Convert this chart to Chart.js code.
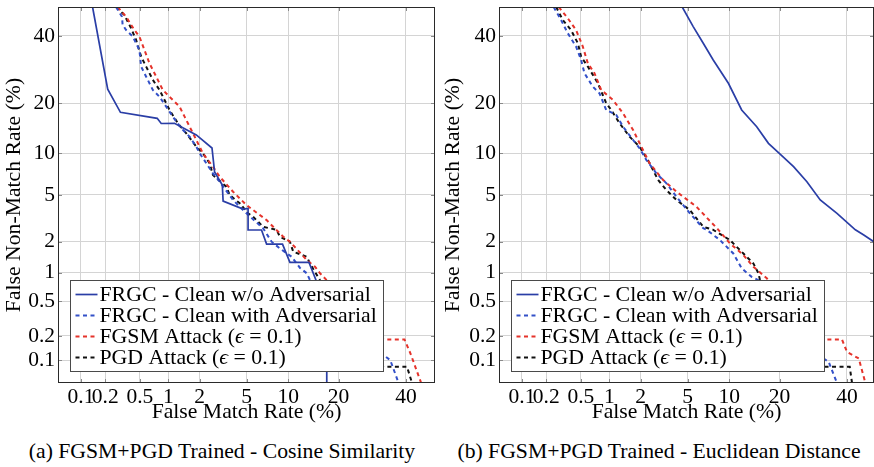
<!DOCTYPE html>
<html><head><meta charset="utf-8">
<script src="https://cdn.jsdelivr.net/npm/chart.js@4/dist/chart.umd.min.js"></script>
<style>
html,body{margin:0;padding:0;background:#fff;overflow:hidden;width:874px;height:467px;}
#wrap{position:relative;width:874px;height:467px;overflow:hidden;}
canvas{position:absolute;top:0;}
.cap{position:absolute;font-family:'Liberation Serif','Times New Roman',serif;font-size:21.7px;white-space:nowrap;transform:translateX(-50%);line-height:1;color:#000;}
</style></head>
<body><div id="wrap">
<canvas id="c1" width="437" height="425" style="left:0"></canvas>
<canvas id="c2" width="437" height="425" style="left:437px"></canvas>
<div class="cap" id="cap1" style="left:222px;top:441px"></div>
<div class="cap" id="cap2" style="left:659px;top:441px"></div>
</div>
<script>
// ---------- DATA (False Match Rate %, False Non-Match Rate %) ----------
const tickValues = [0.1, 0.2, 0.5, 1, 2, 5, 10, 20, 40];
const tickLabels = ['0.1', '0.2', '0.5', '1', '2', '5', '10', '20', '40'];
const seriesLabels = ['FRGC - Clean w/o Adversarial', 'FRGC - Clean with Adversarial', 'FGSM Attack (ϵ = 0.1)', 'PGD Attack (ϵ = 0.1)'];
const panelCaptions = ['(a) FGSM+PGD Trained - Cosine Similarity', '(b) FGSM+PGD Trained - Euclidean Distance'];

// (a) Cosine similarity
const cosNoAdv = [[0.14,50],[0.214,23.6],[0.302,17.84],[0.766,16.5],[0.843,15.4],[1.15,15.45],[1.86,13.14],[2.58,10.86],[2.72,7.43],[3.17,5.96],[3.22,4.47],[4.70,3.85],[5.14,3.90],[5.14,2.55],[6.50,2.55],[7.08,1.90],[9.16,1.90],[10.27,1.27],[13.57,1.27],[14.95,0.84],[17.24,0.3],[17.24,0.05]];
const cosCleanAdv = [[0.269,50],[0.315,46.6],[0.32,43.8],[0.351,42.0],[0.417,39.8],[0.494,35.35],[0.516,30.1],[0.585,27.1],[0.689,23.4],[0.81,21.6],[0.949,19.15],[1.107,16.86],[1.34,14.42],[1.61,12.82],[1.862,11.07],[2.0,10.02],[2.63,7.28],[3.01,6.31],[3.90,4.56],[4.99,3.55],[6.68,2.64],[7.69,2.0],[8.79,1.73],[10.54,1.44],[11.94,1.12],[13.15,0.99],[13.77,0.84],[32.67,0.116],[34.81,0.1],[37.54,0.05]];
const cosFgsm = [[0.281,50],[0.351,46.6],[0.435,42.0],[0.494,39.8],[0.561,35.35],[0.635,31.1],[0.748,27.1],[0.876,23.4],[1.025,21.6],[1.289,19.15],[1.442,16.86],[1.671,14.09],[1.927,11.64],[2.14,10.02],[2.63,8.11],[3.01,6.87],[3.90,5.3],[4.99,4.15],[5.62,3.78],[7.08,3.11],[7.89,2.72],[9.26,2.22],[10.27,2.0],[13.15,1.34],[14.75,1.15],[15.78,0.99],[17.24,0.84],[32.67,0.181],[39.5,0.181],[41.5,0.122],[45.2,0.05]];
const cosPgd = [[0.269,50],[0.335,47.2],[0.40,42.6],[0.454,38.65],[0.516,33.2],[0.585,30.1],[0.689,26.2],[0.81,23.4],[0.912,20.8],[1.025,18.37],[1.241,15.44],[1.497,13.45],[1.862,11.07],[2.14,10.02],[2.46,8.56],[2.63,7.07],[3.43,5.79],[3.66,4.99],[4.42,4.29],[5.14,3.55],[5.62,3.32],[6.68,2.72],[8.34,2.56],[8.79,2.22],[10.27,2.0],[10.8,1.61],[13.15,1.44],[13.77,1.24],[14.75,1.02],[15.78,0.84],[32.67,0.082],[40.35,0.082],[42.06,0.05]];

// (b) Euclidean distance
const eucNoAdv = [[4.54,50],[5.53,43.2],[6.58,37.55],[7.77,32.15],[9.88,25.22],[12.05,18.37],[14.89,14.75],[17.39,11.64],[20.13,9.91],[23.59,8.11],[27.32,6.31],[31.32,4.56],[36.67,3.55],[42.85,2.56],[45.75,2.30],[49.24,2.0]];
const eucCleanAdv = [[0.245,50],[0.299,45.49],[0.357,40.92],[0.443,36.43],[0.503,32.15],[0.547,28.1],[0.673,24.28],[0.79,22.5],[0.927,18.37],[1.17,17.23],[1.361,14.75],[1.70,12.22],[1.955,10.81],[2.25,9.03],[2.76,7.28],[3.37,6.14],[4.08,4.84],[5.21,3.55],[6.58,2.64],[6.96,2.56],[8.66,2.07],[10.65,1.55],[12.05,1.11],[13.89,0.91],[15.24,0.84],[32.38,0.105],[33.97,0.095],[36.67,0.05]];
const eucFgsm = [[0.281,50],[0.357,46.08],[0.443,42.0],[0.525,36.43],[0.595,31.1],[0.70,28.1],[0.823,23.4],[1.084,20.8],[1.361,17.62],[1.70,14.09],[1.955,11.64],[2.41,8.56],[3.16,6.5],[4.08,5.3],[5.86,4.02],[8.44,2.56],[10.11,1.93],[12.35,1.5],[14.23,1.15],[17.02,0.88],[32.38,0.181],[38.33,0.181],[40.0,0.127],[44.02,0.105],[46.31,0.05]];
const eucPgd = [[0.262,50],[0.313,45.49],[0.389,42.0],[0.463,37.55],[0.503,33.2],[0.595,30.1],[0.761,25.22],[0.927,19.97],[1.042,18.37],[1.261,15.44],[1.575,12.82],[1.955,11.07],[2.41,8.56],[2.86,6.5],[3.37,5.46],[4.08,4.56],[5.21,3.78],[6.58,2.72],[7.77,2.56],[10.11,2.07],[12.35,1.55],[14.23,1.24],[15.24,0.99],[15.57,0.84],[32.38,0.082],[40.93,0.082],[41.71,0.05]];

document.getElementById('cap1').textContent = panelCaptions[0];
document.getElementById('cap2').textContent = panelCaptions[1];

// ---------- probit (normal deviate) scale ----------
function probit(p){
  const a=[-3.969683028665376e+01,2.209460984245205e+02,-2.759285104469687e+02,1.383577518672690e+02,-3.066479806614716e+01,2.506628277459239e+00];
  const b=[-5.447609879822406e+01,1.615858368580409e+02,-1.556989798598866e+02,6.680131188771972e+01,-1.328068155288572e+01];
  const c=[-7.784894002430293e-03,-3.223964580411365e-01,-2.400758277161838e+00,-2.549732539343734e+00,4.374664141464968e+00,2.938163982698783e+00];
  const d=[7.784695709041462e-03,3.224671290700398e-01,2.445134137142996e+00,3.754408661907416e+00];
  const pl=0.02425, ph=1-pl; let q,r;
  if(p<pl){q=Math.sqrt(-2*Math.log(p));return (((((c[0]*q+c[1])*q+c[2])*q+c[3])*q+c[4])*q+c[5])/((((d[0]*q+d[1])*q+d[2])*q+d[3])*q+1);}
  if(p>ph){q=Math.sqrt(-2*Math.log(1-p));return -(((((c[0]*q+c[1])*q+c[2])*q+c[3])*q+c[4])*q+c[5])/((((d[0]*q+d[1])*q+d[2])*q+d[3])*q+1);}
  q=p-0.5; r=q*q;
  return (((((a[0]*r+a[1])*r+a[2])*r+a[3])*r+a[4])*r+a[5])*q/(((((b[0]*r+b[1])*r+b[2])*r+b[3])*r+b[4])*r+1);
}
function ncdf(z){
  const t=1/(1+0.2316419*Math.abs(z)); const dd=0.3989423*Math.exp(-z*z/2);
  const p=dd*t*(0.3193815+t*(-0.3565638+t*(1.781478+t*(-1.821256+t*1.330274))));
  return z>0?1-p:p;
}
class ProbitScale extends Chart.Scale {
  determineDataLimits(){ this.min = this.options.min; this.max = this.options.max; }
  buildTicks(){ return tickValues.map(v => ({value: v})); }
  getLabelForValue(v){ return String(v); }
  configure(){ super.configure(); this._pS = probit(this.min/100); this._pE = probit(this.max/100); }
  getPixelForValue(v){
    const cl = Math.min(Math.max(v, 1e-6), 100-1e-6);
    return this.getPixelForDecimal((probit(cl/100) - this._pS) / (this._pE - this._pS));
  }
  getValueForPixel(px){ const dd = this.getDecimalForPixel(px); return 100*ncdf(this._pS + dd*(this._pE - this._pS)); }
  getPixelForTick(i){ const t = this.ticks; return (i < 0 || i >= t.length) ? null : this.getPixelForValue(t[i].value); }
}
ProbitScale.id = 'probit';
ProbitScale.defaults = {};
Chart.register(ProbitScale);

const FONT = "'Liberation Serif', 'Times New Roman', serif";
Chart.defaults.font.family = FONT;
Chart.defaults.color = '#000';

const colNoAdv = '#2a3ea6', colAdv = '#3350c8', colFgsm = '#e5332b', colPgd = '#111111';
const gridColor = '#d4d4d4';
const TXT = 21.7, TICK = 21.5, LEG = 21.8;

function toPts(arr){ return arr.map(p => ({x: p[0], y: p[1]})); }
function makeDatasets(a, b, c, d){
  return [
    {label: seriesLabels[0], data: toPts(a), borderColor: colNoAdv, borderWidth: 1.7, borderDash: []},
    {label: seriesLabels[1], data: toPts(b), borderColor: colAdv, borderWidth: 2, borderDash: [4, 3.5]},
    {label: seriesLabels[2], data: toPts(c), borderColor: colFgsm, borderWidth: 2, borderDash: [4, 3.5]},
    {label: seriesLabels[3], data: toPts(d), borderColor: colPgd, borderWidth: 2, borderDash: [4, 3.5]}
  ];
}

function drawLabel(ctx, text, x, y){
  const parts = text.split('ϵ');
  let cx = x;
  parts.forEach((part, i) => {
    if (i > 0) {
      ctx.font = "italic " + LEG + "px " + FONT;
      ctx.fillText('ϵ', cx, y);
      cx += ctx.measureText('ϵ').width;
    }
    ctx.font = LEG + "px " + FONT;
    ctx.fillText(part, cx, y);
    cx += ctx.measureText(part).width;
  });
}

const framePlugin = {
  id: 'frameLegend',
  afterDatasetsDraw(chart){
    const {ctx, chartArea: a, scales} = chart;
    ctx.save();
    const L = Math.round(a.left), R = Math.round(a.right), T = Math.round(a.top), B = Math.round(a.bottom);
    // inner tick marks
    ctx.strokeStyle = '#8a8a8a'; ctx.lineWidth = 1; ctx.setLineDash([]);
    ctx.beginPath();
    scales.x.ticks.forEach(t => {
      const px = Math.round(scales.x.getPixelForValue(t.value)) + 0.5;
      ctx.moveTo(px, B); ctx.lineTo(px, B - 4); ctx.moveTo(px, T); ctx.lineTo(px, T + 4);
    });
    scales.y.ticks.forEach(t => {
      const py = Math.round(scales.y.getPixelForValue(t.value)) + 0.5;
      ctx.moveTo(L, py); ctx.lineTo(L + 4, py); ctx.moveTo(R, py); ctx.lineTo(R - 4, py);
    });
    ctx.stroke();
    // frame
    ctx.strokeStyle = '#2a2a2a'; ctx.lineWidth = 1;
    ctx.strokeRect(L + 0.5, T + 0.5, R - L - 1, B - T - 1);
    // legend
    const bx = L + 12.5, bh = 91, by = B - 11.5 - bh, bw = 313;
    ctx.fillStyle = '#fff'; ctx.fillRect(bx, by, bw, bh);
    ctx.strokeStyle = '#4a4a4a'; ctx.strokeRect(bx, by, bw, bh);
    chart.data.datasets.forEach((ds, i) => {
      const yy = by + 14 + i * 21;
      ctx.strokeStyle = ds.borderColor; ctx.lineWidth = ds.borderWidth; ctx.setLineDash(ds.borderDash || []);
      ctx.beginPath(); ctx.moveTo(bx + 5, yy); ctx.lineTo(bx + 27, yy); ctx.stroke();
      ctx.setLineDash([]);
      ctx.fillStyle = '#000'; ctx.textBaseline = 'middle'; ctx.textAlign = 'left';
      drawLabel(ctx, ds.label, bx + 29, yy + 1);
    });
    ctx.restore();
  }
};

function makeOptions(xMax, yAxisWidth, yTitlePad, padRight){
  return {
    responsive: false, animation: false, devicePixelRatio: 1,
    layout: {padding: {left: 0, right: padRight, top: 7, bottom: 0}},
    plugins: {legend: {display: false}, tooltip: {enabled: false}},
    elements: {point: {radius: 0}, line: {tension: 0, borderCapStyle: 'butt'}},
    scales: {
      x: {
        type: 'probit', position: 'bottom', min: 0.05, max: xMax,
        grid: {color: gridColor, lineWidth: 1, drawTicks: false},
        border: {display: false},
        ticks: {autoSkip: false, maxRotation: 0, minRotation: 0, padding: 1, color: '#000', font: {size: TICK},
                callback: (v, i) => tickLabels[i]},
        title: {display: true, text: 'False Match Rate (%)', color: '#000', font: {size: TXT}, padding: {top: 0, bottom: 0}},
        afterFit: s => { s.height = 42; s.paddingLeft = 0; s.paddingRight = 0; }
      },
      y: {
        type: 'probit', position: 'left', min: 0.05, max: 50,
        grid: {color: gridColor, lineWidth: 1, drawTicks: false},
        border: {display: false},
        ticks: {autoSkip: false, padding: 3, color: '#000', font: {size: TICK},
                callback: (v, i) => tickLabels[i]},
        title: {display: true, text: 'False Non-Match Rate (%)', color: '#000', font: {size: TXT}, padding: {top: yTitlePad, bottom: 0}},
        afterFit: s => { s.width = yAxisWidth; s.paddingTop = 0; s.paddingBottom = 0; }
      }
    }
  };
}

new Chart(document.getElementById('c1'), {
  type: 'line',
  data: {datasets: makeDatasets(cosNoAdv, cosCleanAdv, cosFgsm, cosPgd)},
  options: makeOptions(50, 58, 1.5, 2),
  plugins: [framePlugin]
});
new Chart(document.getElementById('c2'), {
  type: 'line',
  data: {datasets: makeDatasets(eucNoAdv, eucCleanAdv, eucFgsm, eucPgd)},
  options: makeOptions(49.3, 62, 3, 0),
  plugins: [framePlugin]
});
</script>
</body></html>
